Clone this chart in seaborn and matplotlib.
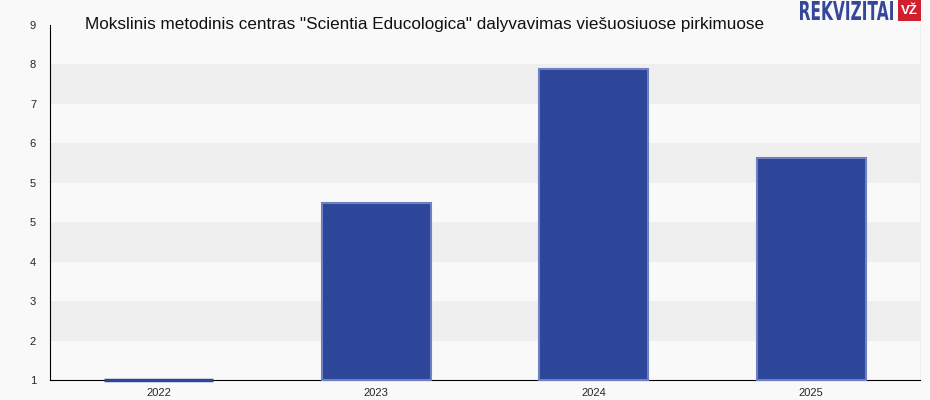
import numpy as np
import pandas as pd
import matplotlib
matplotlib.use("Agg")
import matplotlib.pyplot as plt
import seaborn as sns
from matplotlib.textpath import TextPath
from matplotlib.patches import PathPatch, Rectangle
from matplotlib.font_manager import FontProperties
from matplotlib.transforms import Affine2D

# data
years = ["2022", "2023", "2024", "2025"]
counts = [1, 5, 8, 6]
title = 'Mokslinis metodinis centras "Scientia Educologica" dalyvavimas viešuosiuose pirkimuose'

y_min, y_max, n_ticks = 1, 9, 10

sns.set_style("white")
plt.rcParams['font.family'] = ['Liberation Sans', 'DejaVu Sans']

df = pd.DataFrame({"year": years, "count": counts})

W, H = 930, 400
fig = plt.figure(figsize=(W / 100, H / 100), dpi=100)
fig.patch.set_facecolor("#f9f9f9")
ax = fig.add_axes([50 / W, 20 / H, 870 / W, 355 / H])
ax.set_facecolor("#f9f9f9")

ticks = np.linspace(y_min, y_max, n_ticks)
# alternating grey bands between ticks
for i in range(n_ticks - 1):
    if i % 2 == 1:
        ax.axhspan(ticks[i], ticks[i + 1], color="#efefef", zorder=0, lw=0)

sns.barplot(data=df, x="year", y="count", color="#2e4699", width=0.5,
            edgecolor="#6f80c2", linewidth=1.5, saturation=1, ax=ax)

# bars start from the axis floor, drawn over the bottom spine
for p in ax.patches:
    if p.get_height() > 0 and p.get_y() == 0:
        top = p.get_height()
        p.set_y(y_min)
        p.set_height(top - y_min)
        p.set_clip_on(False)
        p.set_zorder(3)
        if top == y_min:
            p.set_edgecolor("#2e4699")
            p.set_linewidth(2.5)

ax.set_xlim(-0.5, len(years) - 0.5)
ax.set_ylim(y_min, y_max)
ax.set_yticks(ticks)
ax.set_yticklabels([str(int(round(t))) for t in ticks])
ax.set_xlabel("")
ax.set_ylabel("")
ax.tick_params(axis="y", length=4, width=1, color="#888888", labelsize=8, pad=6)
ax.tick_params(axis="x", length=4, width=1, color="#000000", labelsize=8, pad=2)

ax.spines["top"].set_visible(False)
ax.spines["right"].set_color("#eeeeee")
ax.spines["left"].set_color("#000000")
ax.spines["bottom"].set_color("#000000")

fig.text(85 / W, 1 - 25 / H, title, fontsize=12.3, va="center", ha="left", color="#111111")

# logo: condensed blue word + red box
tp = TextPath((0, 0), "REKVIZITAI", size=10,
              prop=FontProperties(family="DejaVu Sans", weight="bold"))
ext = tp.get_extents()
x0, x1, y0, y1 = 800, 893, 380, 400
tr = (Affine2D().translate(-ext.x0, -ext.y0)
      .scale((x1 - x0) / W / ext.width, (y1 - y0 - 1) / H / ext.height)
      .translate(x0 / W, y0 / H)) + fig.transFigure
fig.patches.append(PathPatch(tp, transform=tr, facecolor="#34479a", edgecolor="none"))
fig.patches.append(Rectangle((898 / W, 379 / H), 23 / W, 21 / H, transform=fig.transFigure,
                             facecolor="#d0202e", edgecolor="none"))
fig.text(909.5 / W, 389 / H, "VŽ", fontsize=9.5, fontweight="bold", color="white",
         ha="center", va="center")

fig.savefig("out.png", dpi=100, facecolor=fig.get_facecolor())
